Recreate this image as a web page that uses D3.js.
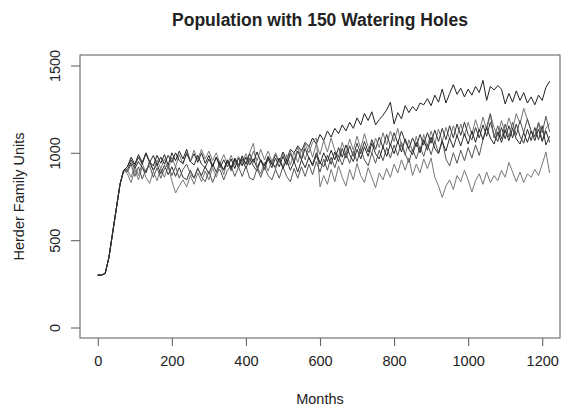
<!DOCTYPE html>
<html>
<head>
<meta charset="utf-8">
<script src="https://cdn.jsdelivr.net/npm/d3@7"></script>
<style>
  body { margin: 0; background: #fff; }
  text { font-family: "Liberation Sans", Arial, Helvetica, sans-serif; fill: #222; }
  .box { fill: none; stroke: #666; stroke-width: 1.1px; }
  .axis path, .axis line { stroke: #666; stroke-width: 1.1px; }
  .run { fill: none; stroke-width: 1px; stroke-linejoin: round; }
</style>
</head>
<body>
<script>
// months sampled every 10, from 0 to 1220
var monthStep = 10;
var xTicks = [0, 200, 400, 600, 800, 1000, 1200];
var yTicks = [0, 500, 1000, 1500];

// shared start-up ramp (months 0 - 70)
var ramp = [300, 300, 310, 400, 540, 680, 820, 900];

// each run from month 80 to 1220
var run1 = [920, 975, 935, 990, 945, 1000, 950, 925, 985, 940,
  990, 930, 1000, 955, 1010, 965, 1020, 950, 995, 945,
  1000, 940, 985, 925, 975, 915, 960, 920, 965, 910,
  970, 925, 975, 930, 965, 915, 960, 925, 975, 935,
  990, 945, 1005, 960, 1020, 1000, 1040, 1010, 1060, 1035,
  1085, 1050, 1105, 1070, 1125, 1090, 1140, 1110, 1160, 1125,
  1175, 1140, 1200, 1160, 1225, 1185, 1235, 1160, 1190, 1215,
  1245, 1290, 1165, 1230, 1195, 1270, 1230, 1265, 1240, 1285,
  1275, 1310, 1270, 1330, 1290, 1365, 1285, 1340, 1390, 1335,
  1370, 1320, 1365, 1330, 1380, 1345, 1415, 1300, 1380, 1360,
  1385, 1365, 1280, 1340, 1290, 1355, 1300, 1345, 1285, 1320,
  1275, 1330, 1300, 1375, 1410];

var run2 = [900, 860, 925, 870, 940, 885, 955, 900, 960, 910,
  965, 905, 975, 920, 990, 935, 1005, 950, 1015, 960,
  1020, 965, 1010, 955, 1000, 940, 990, 935, 985, 930,
  980, 935, 995, 945, 1010, 955, 1020, 960, 1010, 950,
  1000, 945, 995, 940, 1010, 955, 1030, 970, 1050, 1000,
  1060, 1085, 805, 870, 820, 905, 835, 925, 860, 810,
  905, 845, 940, 870, 830, 915, 860, 800, 885, 845,
  910, 860, 935, 885, 960, 900, 970, 870, 935, 885,
  965, 910, 970, 860, 810, 745, 810, 845, 790, 870,
  835, 900, 845, 775, 840, 880, 820, 890, 830, 870,
  840, 900, 860, 945, 890, 835, 890, 830, 880, 860,
  905, 870, 935, 1005, 885];

var run3 = [880, 830, 905, 845, 920, 860, 825, 895, 840, 910,
  860, 925, 840, 770, 810, 845, 805, 870, 820, 885,
  835, 895, 845, 915, 860, 935, 875, 955, 895, 970,
  915, 985, 935, 1000, 1055, 920, 880, 945, 895, 960,
  905, 970, 920, 990, 930, 1005, 945, 1020, 960, 1045,
  975, 1050, 990, 1070, 1005, 1085, 1015, 975, 1060, 995,
  1080, 1015, 1095, 1025, 1110, 1035, 995, 1085, 1030, 1115,
  1045, 1125, 1065, 1140, 1040, 985, 1075, 1005, 1095, 1015,
  1105, 1035, 1125, 1055, 1135, 1065, 1145, 1080, 1155, 1090,
  1165, 1095, 1175, 1105, 1190, 1120, 1205, 1130, 1220, 1145,
  1095, 1185, 1115, 1200, 1135, 1225, 1165, 1255, 1190, 1125,
  1090, 1165, 1070, 1140, 1170];

var run4 = [905, 945, 910, 950, 915, 885, 945, 900, 935, 880,
  930, 875, 920, 865, 915, 860, 845, 900, 855, 910,
  870, 920, 880, 935, 890, 945, 900, 955, 905, 960,
  915, 965, 910, 970, 925, 895, 960, 905, 965, 915,
  970, 920, 980, 930, 995, 945, 1010, 960, 1025, 970,
  935, 1000, 945, 920, 985, 935, 1005, 950, 1025, 970,
  1040, 980, 1055, 995, 1065, 1005, 1075, 1020, 1090, 1030,
  1105, 1040, 1115, 1055, 1125, 1065, 1025, 1085, 1035, 1105,
  1045, 1115, 1055, 1130, 1065, 1140, 1075, 1155, 1085, 1165,
  1100, 1175, 1105, 1075, 1145, 1085, 1160, 1095, 1175, 1105,
  1065, 1145, 1080, 1155, 1085, 1165, 1095, 1055, 1135, 1070,
  1145, 1075, 1155, 1045, 1095];

var run5 = [890, 935, 865, 920, 850, 905, 925, 860, 915, 855,
  910, 930, 870, 920, 855, 905, 935, 880, 855, 915,
  860, 835, 895, 830, 885, 905, 845, 900, 925, 865,
  920, 865, 925, 855, 845, 910, 860, 920, 870, 845,
  905, 855, 920, 865, 835, 910, 855, 920, 865, 935,
  875, 950, 890, 965, 900, 975, 915, 985, 930, 1000,
  940, 1010, 950, 1025, 960, 925, 1000, 940, 1015, 955,
  1030, 970, 1045, 985, 1060, 995, 945, 1020, 965, 1035,
  980, 1050, 990, 1065, 1000, 1075, 965, 925, 1000, 940,
  1015, 955, 1030, 970, 1045, 985, 1075, 1150, 1225, 1085,
  1155, 1080, 1165, 1090, 1175, 1100, 1185, 1115, 1195, 1125,
  1095, 1175, 1115, 1210, 1120];

var run6 = [920, 960, 925, 975, 935, 995, 945, 985, 930, 975,
  935, 985, 945, 1000, 955, 940, 995, 950, 930, 985,
  935, 915, 965, 920, 975, 930, 905, 960, 915, 970,
  930, 980, 935, 995, 945, 1005, 950, 925, 980, 935,
  920, 970, 910, 960, 900, 950, 890, 960, 915, 975,
  925, 985, 935, 1000, 950, 1015, 960, 1030, 975, 1045,
  990, 950, 1020, 965, 1035, 980, 1055, 995, 965, 1035,
  980, 1050, 995, 1065, 1005, 1080, 1020, 990, 1060, 1000,
  1075, 1015, 1090, 1025, 995, 1065, 1010, 1085, 1030, 1100,
  1040, 1110, 1050, 1125, 1060, 1135, 1075, 1145, 1085, 1050,
  1120, 1060, 1130, 1070, 1140, 1080, 1050, 1115, 1060, 1125,
  1070, 1135, 1065, 1125, 1060];

var runs = [run1, run2, run3, run4, run5, run6];
var runColors = ["#222", "#777", "#777", "#333", "#555", "#2a2a2a"];

var width = 564, height = 411;
var margin = {top: 55, right: 4, bottom: 73, left: 80};
var plotW = width - margin.left - margin.right;
var plotH = height - margin.top - margin.bottom;

var svg = d3.select("body").append("svg")
    .attr("width", width)
    .attr("height", height);

svg.append("rect")
  .attr("width", width)
  .attr("height", height)
  .attr("fill", "#fff");

var g = svg.append("g")
    .attr("transform", "translate(" + margin.left + "," + margin.top + ")");

// R style: 4% padding around data range
var xScale = d3.scaleLinear()
  .domain([-48, 1248])
  .range([0, plotW]);
var yScale = d3.scaleLinear()
  .domain([-60, 1560])
  .range([plotH, 0]);

// lines
var valueline = d3.line()
    .x(function(d) { return xScale(d.month); })
    .y(function(d) { return yScale(d.value); });

runs.forEach(function(run, i){
  var values = ramp.concat(run).map(function(v, j){
    return {month: j * monthStep, value: v};
  });
  g.append("path")
    .datum(values)
    .attr("class", "run")
    .style("stroke", runColors[i])
    .attr("d", valueline);
});

// box
g.append("rect")
  .attr("class", "box")
  .attr("x", 0)
  .attr("y", 0)
  .attr("width", plotW)
  .attr("height", plotH);

// axes
var xAxis = d3.axisBottom(xScale).tickValues(xTicks)
  .tickFormat(d3.format("d"))
  .tickSize(8).tickPadding(10).tickSizeOuter(0);
var yAxis = d3.axisLeft(yScale).tickValues(yTicks)
  .tickFormat(d3.format("d"))
  .tickSize(9).tickSizeOuter(0);

var xG = g.append("g")
    .attr("class", "axis")
    .attr("transform", "translate(0," + plotH + ")")
    .call(xAxis);
xG.select(".domain").remove();
xG.selectAll("text")
  .style("font-size", "14.5px")
  .style("fill", "#222");

var yG = g.append("g")
    .attr("class", "axis")
    .call(yAxis);
yG.select(".domain").remove();
yG.selectAll("text")
  .attr("dy", null)
  .attr("transform", "translate(-20,0) rotate(-90)")
  .attr("x", 0)
  .attr("y", 0)
  .style("text-anchor", "middle")
  .style("font-size", "14.5px")
  .style("fill", "#222");

// labels
svg.append("text")
  .attr("x", margin.left + plotW / 2)
  .attr("y", 26)
  .style("text-anchor", "middle")
  .style("font-weight", "bold")
  .style("font-size", "17.5px")
  .text("Population with 150 Watering Holes");

svg.append("text")
  .attr("x", margin.left + plotW / 2)
  .attr("y", 404)
  .style("text-anchor", "middle")
  .style("font-size", "14.5px")
  .text("Months");

svg.append("text")
  .attr("transform", "translate(24," + (margin.top + plotH / 2) + ") rotate(-90)")
  .style("text-anchor", "middle")
  .style("font-size", "14.5px")
  .text("Herder Family Units");
</script>
</body>
</html>
